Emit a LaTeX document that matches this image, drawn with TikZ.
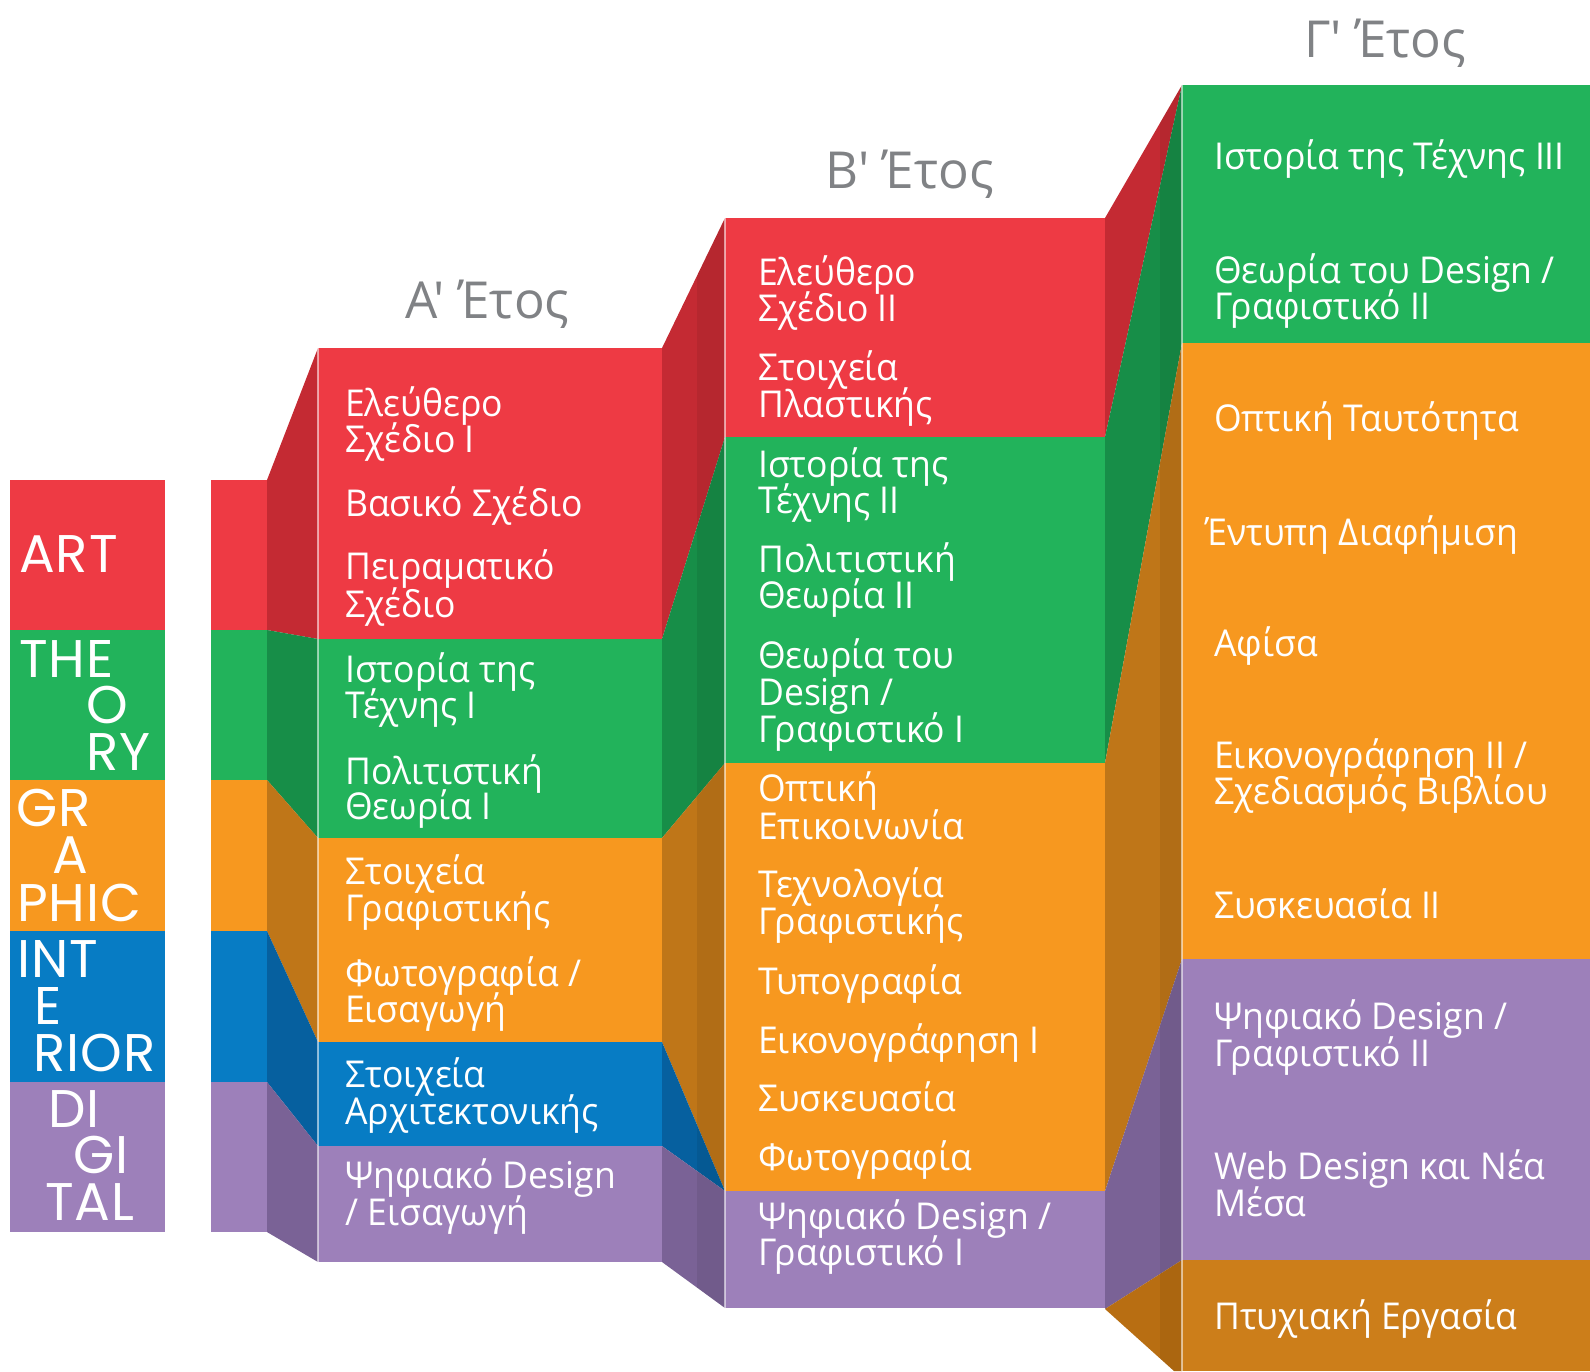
\documentclass[tikz,border=0pt]{standalone}
\usepackage{fontspec}
\setmainfont{Open Sans}[FakeStretch=0.96]
\newfontfamily\legfont{Poppins}[LetterSpace=2]
\newfontfamily\ttlfont{Open Sans}[Ligatures=TeXOff]
\definecolor{cR}{HTML}{EE3A44}
\definecolor{cRd}{HTML}{C42A33}
\definecolor{cG}{HTML}{22B35B}
\definecolor{cGd}{HTML}{178E48}
\definecolor{cO}{HTML}{F7981F}
\definecolor{cOd}{HTML}{BF7618}
\definecolor{cB}{HTML}{077CC4}
\definecolor{cBd}{HTML}{06609F}
\definecolor{cP}{HTML}{9D80BA}
\definecolor{cPd}{HTML}{7A6296}
\definecolor{cD}{HTML}{CC7E1A}
\definecolor{cDd}{HTML}{B86E12}
\definecolor{cT}{HTML}{808285}
\tikzset{
  txt/.style={anchor=base west, inner sep=0pt, text=white, font=\fontsize{37}{36}\selectfont},
  leg/.style={anchor=base west, inner sep=0pt, text=white, font=\legfont\fontsize{53}{53}\selectfont},
  ttl/.style={anchor=base west, inner sep=0pt, text=cT, font=\ttlfont\fontsize{51}{51}\selectfont},
  edgeline/.style={draw=white, draw opacity=0.55, line width=1.5pt},
  wallshade/.style={fill=black, fill opacity=0.07}
}
\begin{document}
\begin{tikzpicture}[x=1pt,y=-1pt]
\useasboundingbox (0,0) rectangle (1590,1371);
% ---------- legend ----------
\fill[cR] (10,480) rectangle (165,630);
\fill[cG] (10,630) rectangle (165,780);
\fill[cO] (10,780) rectangle (165,931);
\fill[cB] (10,931) rectangle (165,1082);
\fill[cP] (10,1082) rectangle (165,1232);
% ---------- strip ----------
\fill[cR] (211,480) rectangle (267,630);
\fill[cG] (211,630) rectangle (267,780);
\fill[cO] (211,780) rectangle (267,931);
\fill[cB] (211,931) rectangle (267,1082);
\fill[cP] (211,1082) rectangle (267,1232);
% ---------- wall 1L ----------
\fill[cRd] (267,480) -- (318,348) -- (318,639) -- (267,630) -- cycle;
\fill[cGd] (267,630) -- (318,639) -- (318,838) -- (267,780) -- cycle;
\fill[cOd] (267,780) -- (318,838) -- (318,1042) -- (267,931) -- cycle;
\fill[cBd] (267,931) -- (318,1042) -- (318,1146) -- (267,1082) -- cycle;
\fill[cPd] (267,1082) -- (318,1146) -- (318,1262) -- (267,1232) -- cycle;
% ---------- column 1 ----------
\fill[cR] (318,348) rectangle (662,639);
\fill[cG] (318,639) rectangle (662,838);
\fill[cO] (318,838) rectangle (662,1042);
\fill[cB] (318,1042) rectangle (662,1146);
\fill[cP] (318,1146) rectangle (662,1262);
% ---------- wall 1R ----------
\fill[cRd] (662,348) -- (725,218) -- (725,437) -- (662,639) -- cycle;
\fill[cGd] (662,639) -- (725,437) -- (725,763) -- (662,838) -- cycle;
\fill[cOd] (662,838) -- (725,763) -- (725,1191) -- (662,1042) -- cycle;
\fill[cBd] (662,1042) -- (725,1191) -- (662,1146) -- cycle;
\fill[cPd] (662,1146) -- (725,1191) -- (725,1308) -- (662,1262) -- cycle;
\begin{scope}
  \clip (662,348) -- (725,218) -- (725,1308) -- (662,1262) -- cycle;
  \fill[wallshade] (697,200) rectangle (725,1320);
\end{scope}
% ---------- column 2 ----------
\fill[cR] (725,218) rectangle (1105,437);
\fill[cG] (725,437) rectangle (1105,763);
\fill[cO] (725,763) rectangle (1105,1191);
\fill[cP] (725,1191) rectangle (1105,1308);
% ---------- wall 2R ----------
\fill[cRd] (1105,218) -- (1182,85) -- (1105,437) -- cycle;
\fill[cGd] (1105,437) -- (1182,85) -- (1182,343) -- (1105,763) -- cycle;
\fill[cOd] (1105,763) -- (1182,343) -- (1182,959) -- (1105,1191) -- cycle;
\fill[cPd] (1105,1191) -- (1182,959) -- (1182,1260) -- (1105,1309) -- cycle;
\fill[cDd] (1105,1309) -- (1182,1260) -- (1182,1371) -- (1174,1371) -- cycle;
\begin{scope}
  \clip (1105,218) -- (1182,85) -- (1182,1371) -- (1174,1371) -- (1105,1309) -- cycle;
  \fill[wallshade] (1160,80) rectangle (1182,1371);
\end{scope}
% ---------- column 3 ----------
\fill[cG] (1182,85) rectangle (1590,343);
\fill[cO] (1182,343) rectangle (1590,959);
\fill[cP] (1182,959) rectangle (1590,1260);
\fill[cD] (1182,1260) rectangle (1590,1371);
% ---------- edge highlights ----------
\draw[edgeline] (318,348) -- (318,1262);
\draw[edgeline] (725,218) -- (725,1308);
\draw[edgeline] (1182,85) -- (1182,1371);
% ---------- titles ----------
\node[ttl] (t1) at (405,318) {Α' Έτος};
\node[ttl] (t2) at (825,188) {Β' Έτος};
\node[ttl] (t3) at (1304,57) {Γ' Έτος};
% ---------- legend text ----------
\node[leg] (l1) at (19,572) {ART};
\node[leg] (l2a) at (19,677) {THE};
\node[leg] (l2b) at (86,723) {O};
\node[leg] (l2c) at (86,770) {RY};
\node[leg] (l3a) at (16,826) {GR};
\node[leg] (l3b) at (52,873) {A};
\node[leg] (l3c) at (17,921) {PHIC};
\node[leg] (l4a) at (17,977) {INT};
\node[leg] (l4b) at (34,1024) {E};
\node[leg] (l4c) at (33,1071) {RIOR};
\node[leg] (l5a) at (48,1127) {DI};
\node[leg] (l5b) at (73,1173) {GI};
\node[leg] (l5c) at (45,1220) {TAL};
% ---------- column 1 text ----------
\node[txt] (a1) at (345,416) {Ελεύθερο};
\node[txt] (a1b) at (345,452) {Σχέδιο Ι};
\node[txt] (a2) at (345,516) {Βασικό Σχέδιο};
\node[txt] (a3) at (345,579) {Πειραματικό};
\node[txt] (a3b) at (345,617) {Σχέδιο};
\node[txt] (a4) at (345,682) {Ιστορία της};
\node[txt] (a4b) at (345,718) {Τέχνης Ι};
\node[txt] (a5) at (345,784) {Πολιτιστική};
\node[txt] (a5b) at (345,819) {Θεωρία Ι};
\node[txt] (a6) at (345,884) {Στοιχεία};
\node[txt] (a6b) at (345,921) {Γραφιστικής};
\node[txt] (a7) at (345,986) {Φωτογραφία /};
\node[txt] (a7b) at (345,1022) {Εισαγωγή};
\node[txt] (a8) at (345,1087) {Στοιχεία};
\node[txt] (a8b) at (345,1124) {Αρχιτεκτονικής};
\node[txt] (a9) at (345,1188) {Ψηφιακό Design};
\node[txt] (a9b) at (345,1225) {/ Εισαγωγή};
% ---------- column 2 text ----------
\node[txt] (b1) at (758,285) {Ελεύθερο};
\node[txt] (b1b) at (758,321) {Σχέδιο ΙΙ};
\node[txt] (b2) at (758,380) {Στοιχεία};
\node[txt] (b2b) at (758,417) {Πλαστικής};
\node[txt] (b3) at (758,477) {Ιστορία της};
\node[txt] (b3b) at (758,513) {Τέχνης ΙΙ};
\node[txt] (b4) at (758,572) {Πολιτιστική};
\node[txt] (b4b) at (758,608) {Θεωρία ΙΙ};
\node[txt] (b5) at (758,668) {Θεωρία του};
\node[txt] (b5b) at (758,705) {Design /};
\node[txt] (b5c) at (758,742) {Γραφιστικό Ι};
\node[txt] (b6) at (758,801) {Οπτική};
\node[txt] (b6b) at (758,839) {Επικοινωνία};
\node[txt] (b7) at (758,897) {Τεχνολογία};
\node[txt] (b7b) at (758,934) {Γραφιστικής};
\node[txt] (b8) at (758,994) {Τυπογραφία};
\node[txt] (b9) at (758,1053) {Εικονογράφηση Ι};
\node[txt] (b10) at (758,1111) {Συσκευασία};
\node[txt] (b11) at (758,1170) {Φωτογραφία};
\node[txt] (b12) at (758,1229) {Ψηφιακό Design /};
\node[txt] (b12b) at (758,1265) {Γραφιστικό Ι};
% ---------- column 3 text ----------
\node[txt] (c1) at (1214,169) {Ιστορία της Τέχνης ΙΙΙ};
\node[txt] (c2) at (1214,283) {Θεωρία του Design /};
\node[txt] (c2b) at (1214,319) {Γραφιστικό ΙΙ};
\node[txt] (c3) at (1214,431) {Οπτική Ταυτότητα};
\node[txt] (c4) at (1205,545) {Έντυπη Διαφήμιση};
\node[txt] (c5) at (1214,656) {Αφίσα};
\node[txt] (c6) at (1214,768) {Εικονογράφηση ΙΙ /};
\node[txt] (c6b) at (1214,804) {Σχεδιασμός Βιβλίου};
\node[txt] (c7) at (1214,918) {Συσκευασία ΙΙ};
\node[txt] (c8) at (1214,1029) {Ψηφιακό Design /};
\node[txt] (c8b) at (1214,1066) {Γραφιστικό ΙΙ};
\node[txt] (c9) at (1214,1179) {Web Design και Νέα};
\node[txt] (c9b) at (1214,1216) {Μέσα};
\node[txt] (c10) at (1214,1329) {Πτυχιακή Εργασία};
\end{tikzpicture}
\end{document}
